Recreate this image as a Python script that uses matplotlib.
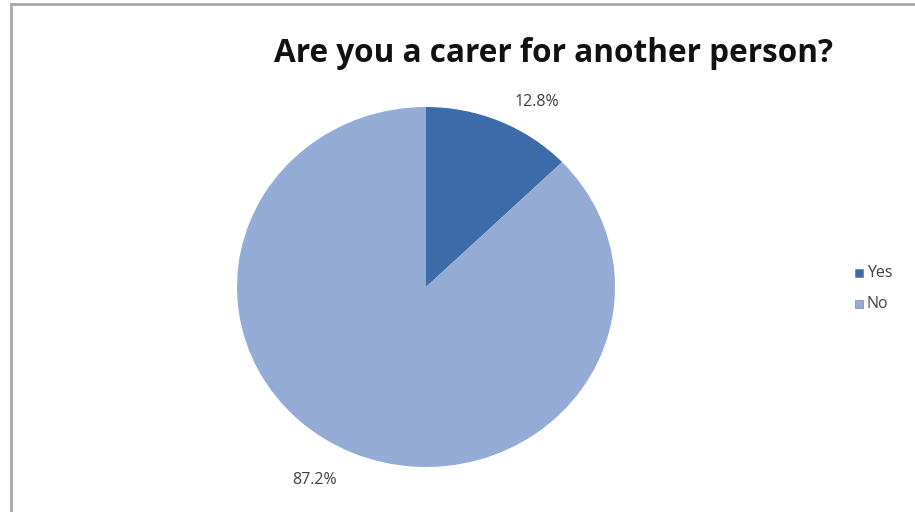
import matplotlib
matplotlib.use("Agg")
import matplotlib.pyplot as plt
from matplotlib.patches import Rectangle
from matplotlib.lines import Line2D

categories = ["Yes", "No"]
shares = [12.8, 87.2]
colors = ["#3D6BAA", "#94ABD6"]

W, H = 915, 512
fig = plt.figure(figsize=(W / 100, H / 100), dpi=100)
fig.patch.set_facecolor("white")

# chart frame: left and top edges
fig.add_artist(Line2D([11 / W, 11 / W], [0, 1 - 4 / H], color="#A8A8A8", lw=2.0))
fig.add_artist(Line2D([11 / W, 1], [1 - 4 / H, 1 - 4 / H], color="#A8A8A8", lw=2.0))

# pie area
x0, x1, ytop, ybot = 237, 615, 107, 467
ax = fig.add_axes([x0 / W, 1 - ybot / H, (x1 - x0) / W, (ybot - ytop) / H])
wedges, _ = ax.pie(shares, colors=colors, startangle=90, counterclock=False,
                   wedgeprops=dict(linewidth=0))
ax.set_aspect("auto")
ax.set_xlim(-1, 1)
ax.set_ylim(-1, 1)
ax.axis("off")

label_pos = [(0.585, 1.03), (-0.59, -1.07)]
for (lx, ly), v in zip(label_pos, shares):
    ax.text(lx, ly, f"{v:.1f}%", ha="center", va="center", fontsize=11.5,
            color="#404040", family="Open Sans", clip_on=False)

fig.text(554 / W, 1 - 53 / H, "Are you a carer for another person?",
         ha="center", va="center", fontsize=22.7, fontweight="bold",
         family="Open Sans", color="#111111")

# legend
for i, (lab, c) in enumerate(zip(categories, colors)):
    yc = 273 + i * 31
    fig.add_artist(Rectangle((855 / W, 1 - (yc + 4) / H), 8 / W, 8 / H,
                             facecolor=c, edgecolor="#707070", lw=0.4))
    fig.text(867 / W, 1 - yc / H, lab, ha="left", va="center", fontsize=11.5,
             family="Open Sans", color="#404040")

fig.savefig("out.png", dpi=100, facecolor="white")
